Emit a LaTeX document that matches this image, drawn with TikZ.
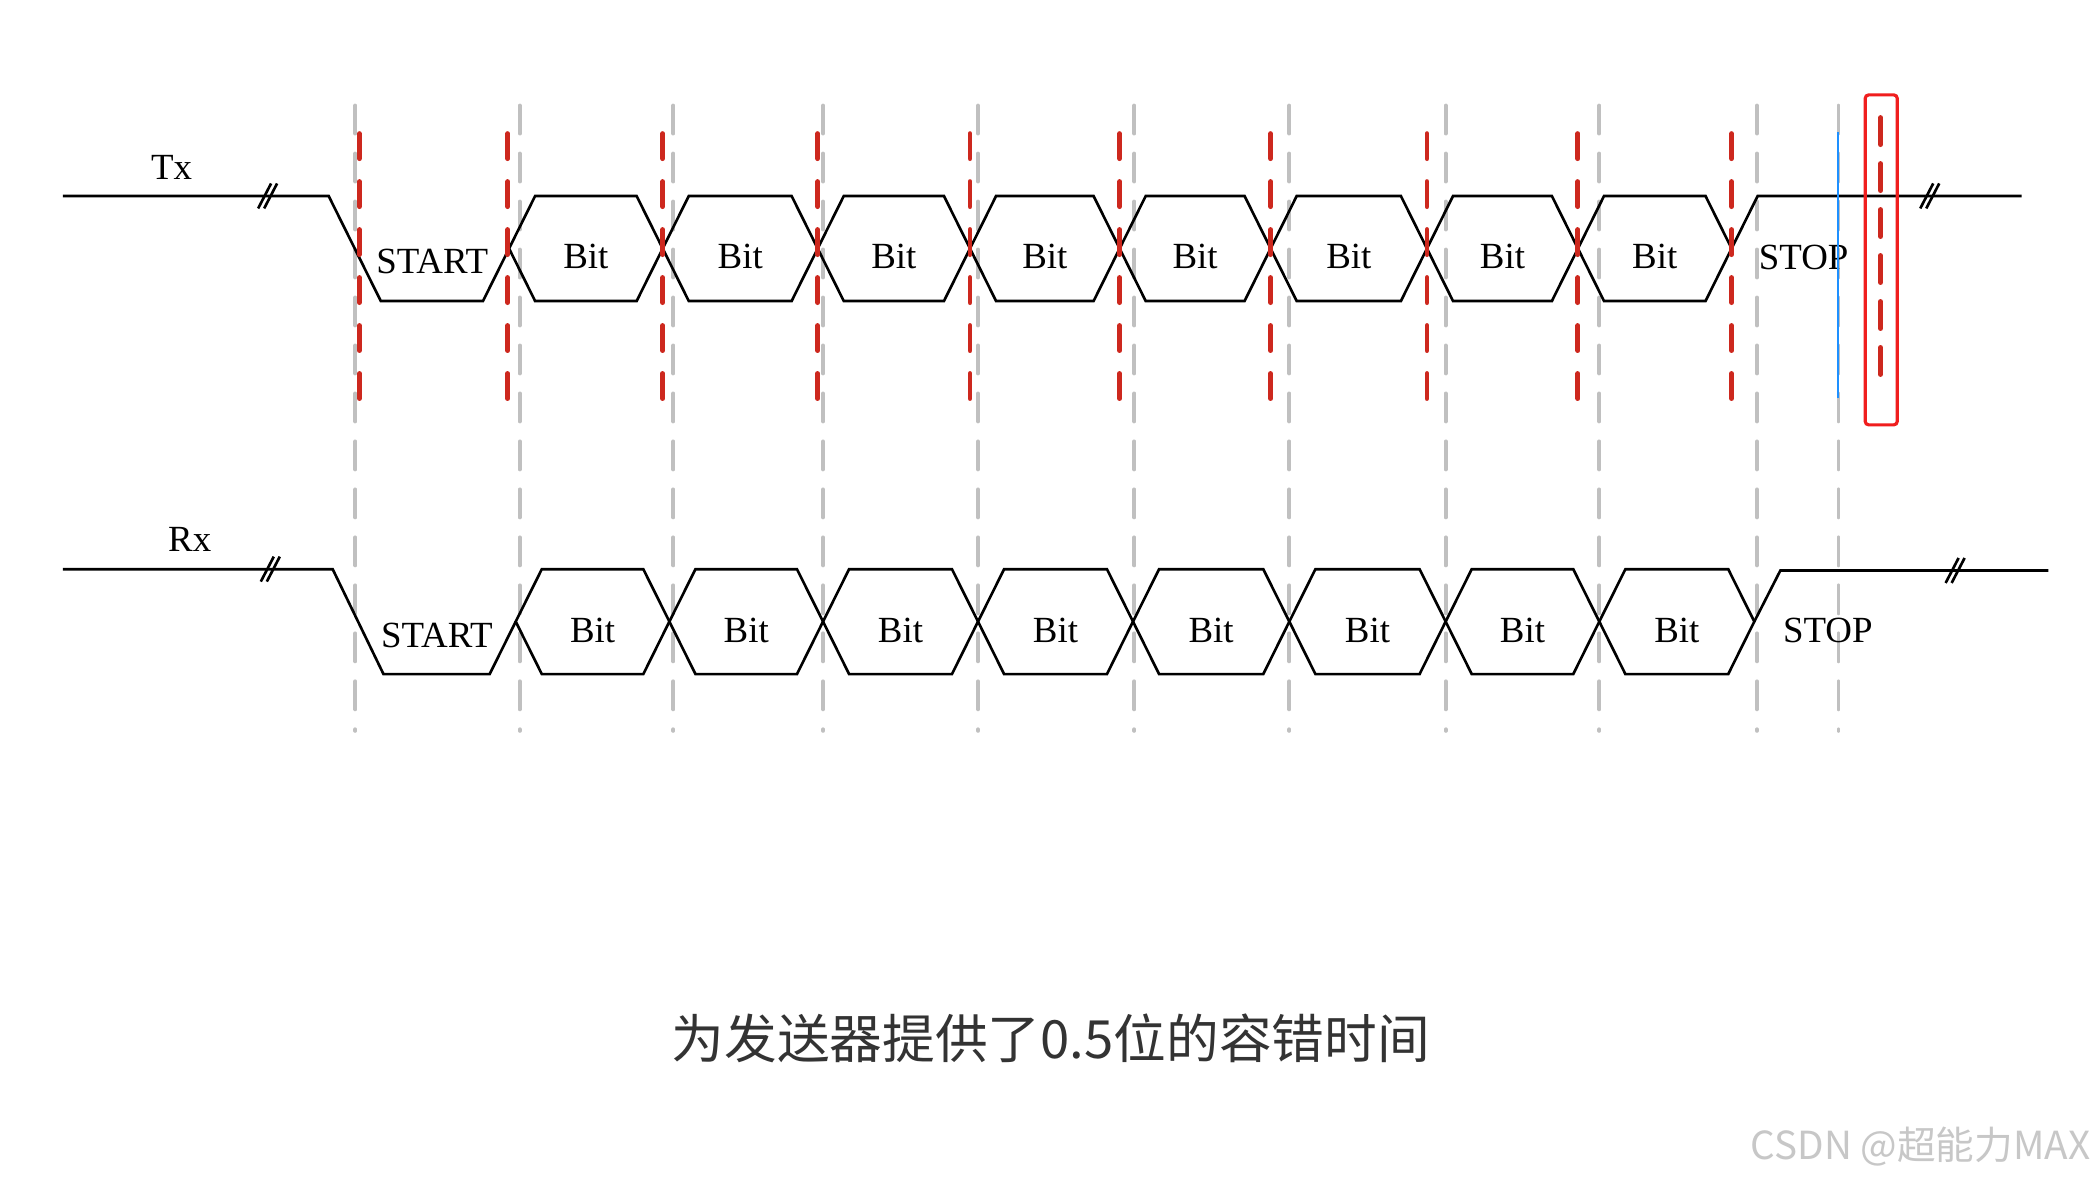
\documentclass[tikz,border=0pt]{standalone}
\usepackage{fontspec}
\setmainfont{Liberation Serif}
\newfontfamily\cjkfont{Noto Sans CJK SC}

\definecolor{sampred}{RGB}{205,40,30}
\definecolor{rxgray}{RGB}{192,192,192}
\definecolor{boxred}{RGB}{240,30,30}
\definecolor{markblue}{RGB}{30,144,255}
\definecolor{capgray}{RGB}{51,51,51}

\begin{document}
\begin{tikzpicture}[
    x=0.013361cm, y=-0.013361cm,
    every node/.style={font=\fontsize{10.5pt}{12pt}\selectfont, inner sep=0pt},
    sig/.style={black, line width=0.75pt},
    rxtick/.style={rxgray, line width=1.1pt, line cap=round, dash pattern=on 2.8mm off 2mm},
    txsample/.style={sampred, line width=1.4pt, line cap=round, dash pattern=on 2.5mm off 2.3mm}
]
\fill[white] (0,0) rectangle (1568,885);
\useasboundingbox (0,0) rectangle (1568,885);

% receiver bit boundaries
\foreach \x in {266,389,504,616,732,849,965,1082,1197,1315,1376}
    \draw[rxtick] (\x,79) -- (\x,547);

% Tx
\draw[sig] (47,146.7) -- (246,146.7) -- (285,225.3) -- (361.5,225.3) -- (381,186);
\foreach \a/\b [count=\i] in {381/496,496/612,612/726,726/838,838/951,951/1068,1068/1181,1181/1296} {
    \draw[sig] (\a,186) -- (\a+19.5,146.7) -- (\b-19.5,146.7) -- (\b,186)
        -- (\b-19.5,225.3) -- (\a+19.5,225.3) -- cycle;
    \node (txbit\i) at ({(\a+\b)/2},192) {Bit};
}
\draw[sig] (1296,186) -- (1315.5,146.7) -- (1513,146.7);
\draw[sig] (193.2,156) -- ++(9.7,-18.7) (197.7,156) -- ++(9.7,-18.7);
\draw[sig] (1437.2,156) -- ++(9.7,-18.7) (1441.7,156) -- ++(9.7,-18.7);
\node (txlabel) at (128.5,125) {Tx};
\node (txstart) at (323.5,196) {START};
\node (txstop) at (1350,192.5) {STOP};

% Rx
\draw[sig] (47,426) -- (249,426) -- (287,504.5) -- (366.5,504.5) -- (386,465.2);
\foreach \a/\b [count=\i] in {386/501,501/616,616/732,732/848,848/965,965/1082,1082/1197,1197/1313} {
    \draw[sig] (\a,465.2) -- (\a+19.5,426) -- (\b-19.5,426) -- (\b,465.2)
        -- (\b-19.5,504.5) -- (\a+19.5,504.5) -- cycle;
    \node (rxbit\i) at ({(\a+\b)/2},472) {Bit};
}
\draw[sig] (1313,465.2) -- (1332.5,427) -- (1533,427);
\draw[sig] (195.2,435.3) -- ++(9.7,-18.7) (199.7,435.3) -- ++(9.7,-18.7);
\draw[sig] (1456.2,436.3) -- ++(9.7,-18.7) (1460.7,436.3) -- ++(9.7,-18.7);
\node (rxlabel) at (142,404) {Rx};
\node (rxstart) at (327,475.5) {START};
\node (rxstop) at (1368,472) {STOP};

% sampling points of the sender
\foreach \x in {269,380,496,612,726,838,951,1068,1181,1296}
    \draw[txsample] (\x,100) -- (\x,299);
\draw[txsample, dash pattern=on 2.7mm off 1.9mm] (1407.5,88) -- (1407.5,288);
\draw[markblue, line width=0.6pt] (1375.5,99) -- (1375.5,298);
\draw[boxred, line width=0.9pt, rounded corners=1pt] (1396,71) rectangle (1420,318);

\node[font=\cjkfont\fontsize{15pt}{17pt}\selectfont, text=capgray] (caption) at (786.5,777)
    {为发送器提供了0.5位的容错时间};
\node[font=\cjkfont\fontsize{11pt}{13pt}\selectfont, text=black!22, anchor=east] (mark) at (1565,858)
    {CSDN @超能力MAX};
\end{tikzpicture}
\end{document}
